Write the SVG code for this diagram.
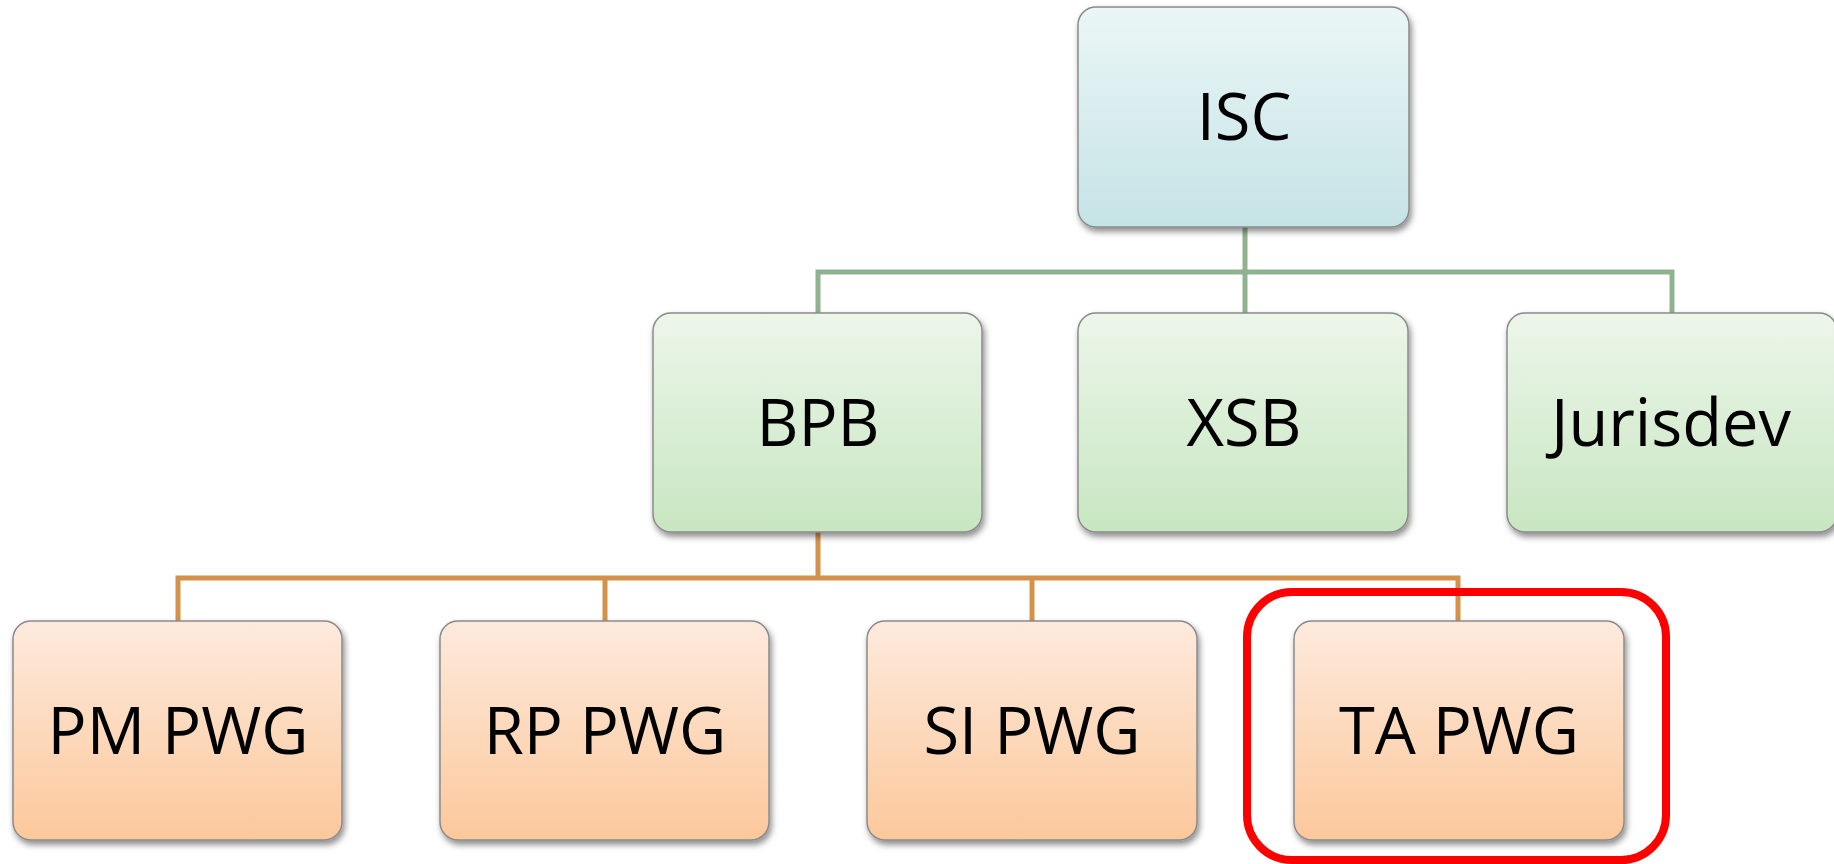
<svg xmlns="http://www.w3.org/2000/svg" width="1834" height="864" viewBox="0 0 1834 864">
<style>
.box{stroke:#8a8a8a;stroke-width:1.5;filter:url(#sh)}
.lbl{font-family:"Open Sans","Liberation Sans",sans-serif;font-size:65px;fill:#000;text-anchor:middle}
.gl{stroke:#8fb38e;stroke-width:5;fill:none}
.ol{stroke:#d4914a;stroke-width:5;fill:none}
</style>
<defs>
<linearGradient id="gb" x1="0" y1="0" x2="0" y2="1"><stop offset="0" stop-color="#ebf6f6"/><stop offset="1" stop-color="#c5e3e6"/></linearGradient>
<linearGradient id="gg" x1="0" y1="0" x2="0" y2="1"><stop offset="0" stop-color="#ecf6ea"/><stop offset="1" stop-color="#c8e6c1"/></linearGradient>
<linearGradient id="go" x1="0" y1="0" x2="0" y2="1"><stop offset="0" stop-color="#fdeadd"/><stop offset="1" stop-color="#fcc89b"/></linearGradient>
<filter id="sh" x="-10%" y="-10%" width="125%" height="130%"><feDropShadow dx="2" dy="4" stdDeviation="3" flood-color="#000" flood-opacity="0.45"/></filter>
</defs>
<rect width="1834" height="864" fill="#fff"/>
<g id="connectors">
<path class="gl" d="M1245,227 V313 M818,313 V272 H1672 V313"/>
<path class="ol" d="M818,532 V578 M178,621 V578 H1458 V621 M605,578 V621 M1032,578 V621"/>
</g>
<g id="ISC"><rect class="box" x="1078" y="7" width="331" height="220" rx="18" fill="url(#gb)"/><text class="lbl" x="1244" y="140">ISC</text></g>
<g id="BPB"><rect class="box" x="653" y="313" width="329" height="219" rx="18" fill="url(#gg)"/><text class="lbl" x="818" y="446">BPB</text></g>
<g id="XSB"><rect class="box" x="1078" y="313" width="330" height="219" rx="18" fill="url(#gg)"/><text class="lbl" x="1244" y="446">XSB</text></g>
<g id="Jurisdev"><rect class="box" x="1507" y="313" width="330" height="219" rx="18" fill="url(#gg)"/><text class="lbl" x="1671" y="446">Jurisdev</text></g>
<g id="PMPWG"><rect class="box" x="13" y="621" width="329" height="219" rx="18" fill="url(#go)"/><text class="lbl" x="178" y="754">PM PWG</text></g>
<g id="RPPWG"><rect class="box" x="440" y="621" width="329" height="219" rx="18" fill="url(#go)"/><text class="lbl" x="605" y="754">RP PWG</text></g>
<g id="SIPWG"><rect class="box" x="867" y="621" width="330" height="219" rx="18" fill="url(#go)"/><text class="lbl" x="1032" y="754">SI PWG</text></g>
<g id="TAPWG"><rect class="box" x="1294" y="621" width="330" height="219" rx="18" fill="url(#go)"/><text class="lbl" x="1459" y="754">TA PWG</text></g>
<g id="highlight"><rect x="1247" y="592" width="419" height="268" rx="45" fill="none" stroke="#ff0000" stroke-width="8"/></g>
</svg>
